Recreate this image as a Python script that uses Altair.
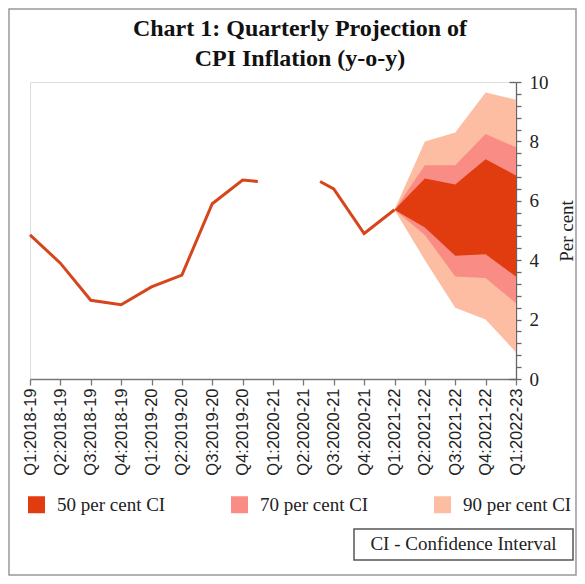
import altair as alt
import pandas as pd

title_lines = ["Chart 1: Quarterly Projection of", "CPI Inflation (y-o-y)"]

quarters = ["Q1:2018-19", "Q2:2018-19", "Q3:2018-19", "Q4:2018-19",
            "Q1:2019-20", "Q2:2019-20", "Q3:2019-20", "Q4:2019-20",
            "Q1:2020-21", "Q2:2020-21", "Q3:2020-21", "Q4:2020-21",
            "Q1:2021-22", "Q2:2021-22", "Q3:2021-22", "Q4:2021-22",
            "Q1:2022-23"]

# actual CPI inflation (position on quarter index, value)
seg1_pos = [0, 1, 2, 3, 4, 5, 6, 7, 7.5]
seg1_val = [4.85, 3.9, 2.65, 2.5, 3.1, 3.5, 5.9, 6.7, 6.65]
seg2_pos = [9.55, 10, 11, 12]
seg2_val = [6.65, 6.4, 4.9, 5.7]

# fan chart
fan_pos = [12, 13, 14, 15, 16]
ci50_lo = [5.7, 5.1, 4.15, 4.2, 3.45]
ci50_hi = [5.7, 6.75, 6.55, 7.4, 6.85]
ci70_lo = [5.7, 4.85, 3.45, 3.4, 2.55]
ci70_hi = [5.7, 7.2, 7.2, 8.25, 7.8]
ci90_lo = [5.7, 4.0, 2.4, 2.0, 0.9]
ci90_hi = [5.7, 8.0, 8.3, 9.65, 9.4]

ci_labels = ["50 per cent CI", "70 per cent CI", "90 per cent CI"]
ci_colors = ["#E03C10", "#F98C84", "#FCBDA2"]

y_major = [0, 2, 4, 6, 8, 10]
y_minor = [round(i * 0.4, 1) for i in range(26)]

line_df = pd.DataFrame({
    "pos": seg1_pos + seg2_pos,
    "val": seg1_val + seg2_val,
    "seg": ["a"] * len(seg1_pos) + ["b"] * len(seg2_pos),
})

def band_df(label, lo, hi):
    return pd.DataFrame({"pos": fan_pos, "lo": lo, "hi": hi, "ci": [label] * len(fan_pos)})

W, H = 486, 297
SERIF = "Liberation Serif"
SANS = "Liberation Sans"

x_scale = alt.Scale(domain=[0, 16], nice=False, zero=False)
y_scale = alt.Scale(domain=[0, 10], nice=False)

label_expr = "[" + ",".join("'%s'" % q for q in quarters) + "][datum.value]"

x_axis = alt.Axis(values=list(range(len(quarters))), labelExpr=label_expr,
                  labelAngle=-90, labelFont=SANS, labelFontSize=16.5,
                  labelColor="#222", tickSize=6, tickColor="#777",
                  domainColor="#777", domainWidth=1.3, tickWidth=1.3,
                  grid=False, title=None, labelPadding=3)

y_axis = alt.Axis(orient="right", values=y_minor,
                  labelExpr="datum.value % 2 == 0 ? format(datum.value, 'd') : ''",
                  tickSize=5, tickColor="#666", tickWidth=1.3,
                  domainColor="#666", domainWidth=1.3, grid=False,
                  labelFont=SERIF, labelFontSize=19, labelColor="#222",
                  labelPadding=8, labelFlush=False, labelOverlap=False,
                  title="Per cent", titleFont=SERIF, titleFontSize=19,
                  titleFontWeight="normal", titleColor="#222",
                  titleAngle=270, titlePadding=28)

y_axis_inner = alt.Axis(orient="right", values=y_major, offset=-7,
                        tickSize=7, tickColor="#666", tickWidth=1.3,
                        domain=False, labels=False, grid=False, title=None)

legend = alt.Legend(orient="none", legendX=-3, legendY=413,
                    direction="horizontal", title=None, symbolType="square",
                    symbolSize=289, symbolStrokeWidth=0, symbolOpacity=1,
                    labelFont=SERIF, labelFontSize=19, labelColor="#222",
                    labelOffset=11, columnPadding=64, padding=0,
                    labelLimit=300)

color = alt.Color("ci:N", scale=alt.Scale(domain=ci_labels, range=ci_colors),
                  legend=legend)

def band(label, lo, hi, with_axis):
    return alt.Chart(band_df(label, lo, hi)).mark_area(opacity=1).encode(
        x=alt.X("pos:Q", scale=x_scale, axis=x_axis),
        y=alt.Y("lo:Q", scale=y_scale, axis=y_axis if with_axis else None),
        y2="hi:Q",
        fill=color,
    )

b90 = band(ci_labels[2], ci90_lo, ci90_hi, True)
b70 = band(ci_labels[1], ci70_lo, ci70_hi, False)
b50 = band(ci_labels[0], ci50_lo, ci50_hi, False)

line = alt.Chart(line_df).mark_line(color="#D6461C", strokeWidth=3).encode(
    x=alt.X("pos:Q", scale=x_scale, axis=x_axis),
    y=alt.Y("val:Q", scale=y_scale, axis=y_axis_inner),
    detail="seg:N",
)

one = pd.DataFrame({"k": [0]})

ci_box = alt.Chart(one).mark_rect(fill="white", stroke="#555", strokeWidth=1.5).encode(
    x=alt.value(324), x2=alt.value(543), y=alt.value(447), y2=alt.value(478))
ci_text = alt.Chart(one).mark_text(text="CI - Confidence Interval", font=SERIF,
                                   fontSize=19, color="#222", align="center",
                                   baseline="middle").encode(
    x=alt.value(433.5), y=alt.value(462))
frame = alt.Chart(one).mark_rect(fillOpacity=0, stroke="#999", strokeWidth=1.5).encode(
    x=alt.value(-21), x2=alt.value(546), y=alt.value(-73), y2=alt.value(493))

t1 = alt.Chart(one).mark_text(text=title_lines[0], font=SERIF, fontSize=24,
                              fontWeight="bold", color="#111", align="center",
                              baseline="alphabetic").encode(
    x=alt.value(270), y=alt.value(-46))
t2 = alt.Chart(one).mark_text(text=title_lines[1], font=SERIF, fontSize=24,
                              fontWeight="bold", color="#111", align="center",
                              baseline="alphabetic").encode(
    x=alt.value(270), y=alt.value(-16))

chart = alt.layer(b90, b70, b50, line, ci_box, ci_text, frame, t1, t2).resolve_axis(
    y="independent"
).properties(
    width=W, height=H,
    autosize=alt.AutoSizeParams(type="none"),
    padding={"left": 22, "top": 74, "right": 61, "bottom": 197},
).configure_view(stroke=None).configure(background="white")

chart.save("out.html", embed_options={"renderer": "svg", "actions": False})
